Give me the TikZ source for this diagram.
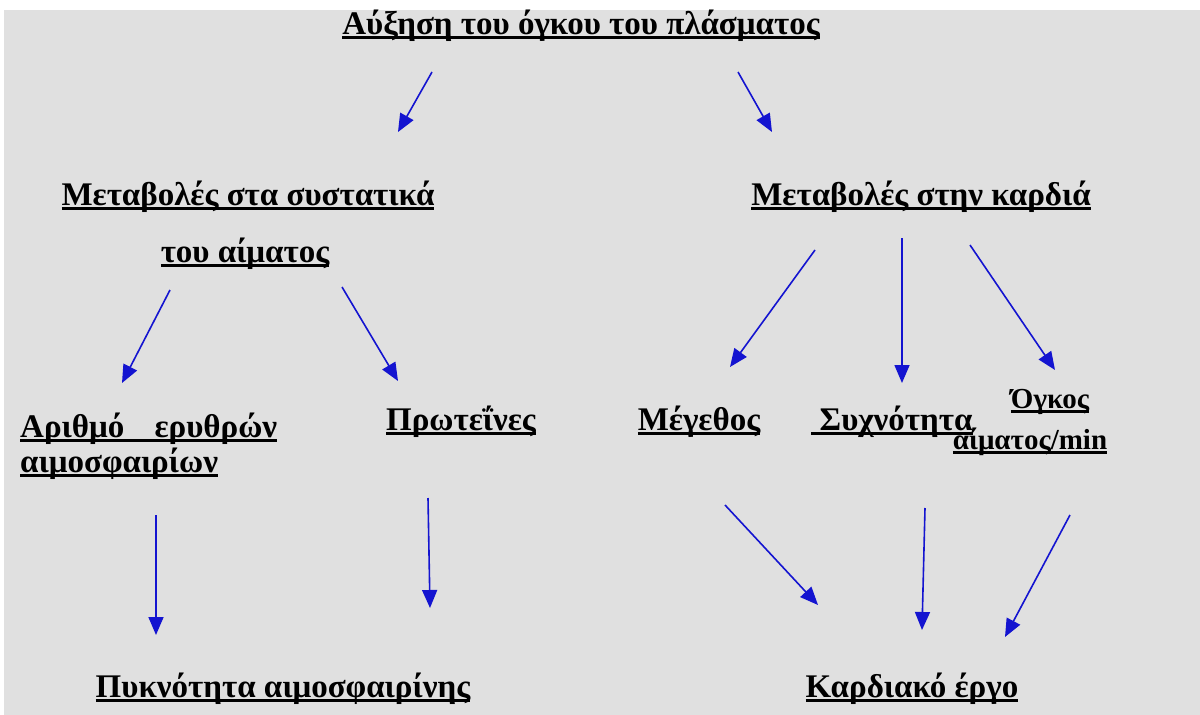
\documentclass[tikz,border=0pt]{standalone}
\usepackage{fontspec}
\setmainfont{Liberation Serif}
\usetikzlibrary{arrows.meta}
\definecolor{bggray}{HTML}{E0E0E0}
\definecolor{arrblue}{HTML}{1414D0}
\newcommand\ulx[1]{\setbox0\hbox{#1}\rlap{\rule[-4.5pt]{\wd0}{2.6pt}}\box0}
\tikzset{
  lbl/.style={inner sep=0pt, font=\fontsize{33}{38}\selectfont\bfseries},
  lblsm/.style={inner sep=0pt, font=\fontsize{29}{34}\selectfont\bfseries},
  conn/.style={draw=arrblue, line width=1.6pt, -{Triangle[length=18pt,width=15pt]}}
}
\begin{document}
\begin{tikzpicture}[x=1pt,y=-1pt]
\useasboundingbox (0,0) rectangle (1200,715);
\fill[white] (0,0) rectangle (1200,715);
\fill[bggray] (4,10) rectangle (1200,715);
% labels
\node[lbl, anchor=base] (top) at (581,34) {\ulx{Αύξηση του όγκου του πλάσματος}};
\node[lbl, anchor=base] (lc1) at (248,205) {\ulx{Μεταβολές στα συστατικά}};
\node[lbl, anchor=base] (lc2) at (245,262) {\ulx{του αίματος}};
\node[lbl, anchor=base] (rc) at (921,205) {\ulx{Μεταβολές στην καρδιά}};
\node[lbl, anchor=base west] (ar1) at (20,437) {\ulx{\makebox[257pt][s]{Αριθμό\hfill ερυθρών}}};
\node[lbl, anchor=base west] (ar2) at (20,472) {\ulx{αιμοσφαιρίων}};
\node[lbl, anchor=base] (pr) at (461,430) {\ulx{Πρωτεΐνες}};
\node[lbl, anchor=base] (me) at (699,430) {\ulx{Μέγεθος}};
\node[lbl, anchor=base] (sy) at (892,430) {\ulx{\ Συχνότητα}};
\node[lblsm, anchor=base] (og1) at (1050,408) {\ulx{Όγκος}};
\node[lblsm, anchor=base] (og2) at (1030,449) {\ulx{αίματος/min}};
\node[lbl, anchor=base] (py) at (283,697) {\ulx{Πυκνότητα αιμοσφαιρίνης}};
\node[lbl, anchor=base] (ka) at (912,697) {\ulx{Καρδιακό έργο}};
% arrow end points
\coordinate (a1s) at (432,72);   \coordinate (a1e) at (398,132);
\coordinate (a2s) at (738,72);   \coordinate (a2e) at (772,132);
\coordinate (a3s) at (170,290);  \coordinate (a3e) at (122,383);
\coordinate (a4s) at (342,287);  \coordinate (a4e) at (398,381);
\coordinate (a5s) at (815,250);  \coordinate (a5e) at (730,367);
\coordinate (a6s) at (902,238);  \coordinate (a6e) at (902,383);
\coordinate (a7s) at (970,245);  \coordinate (a7e) at (1055,370);
\coordinate (a8s) at (156,515);  \coordinate (a8e) at (156,635);
\coordinate (a9s) at (428,498);  \coordinate (a9e) at (430,608);
\coordinate (a10s) at (725,505); \coordinate (a10e) at (818,605);
\coordinate (a11s) at (925,508); \coordinate (a11e) at (922,630);
\coordinate (a12s) at (1070,515);\coordinate (a12e) at (1005,637);
\foreach \i in {1,...,12} { \draw[conn] (a\i s) -- (a\i e); }
\end{tikzpicture}
\end{document}
